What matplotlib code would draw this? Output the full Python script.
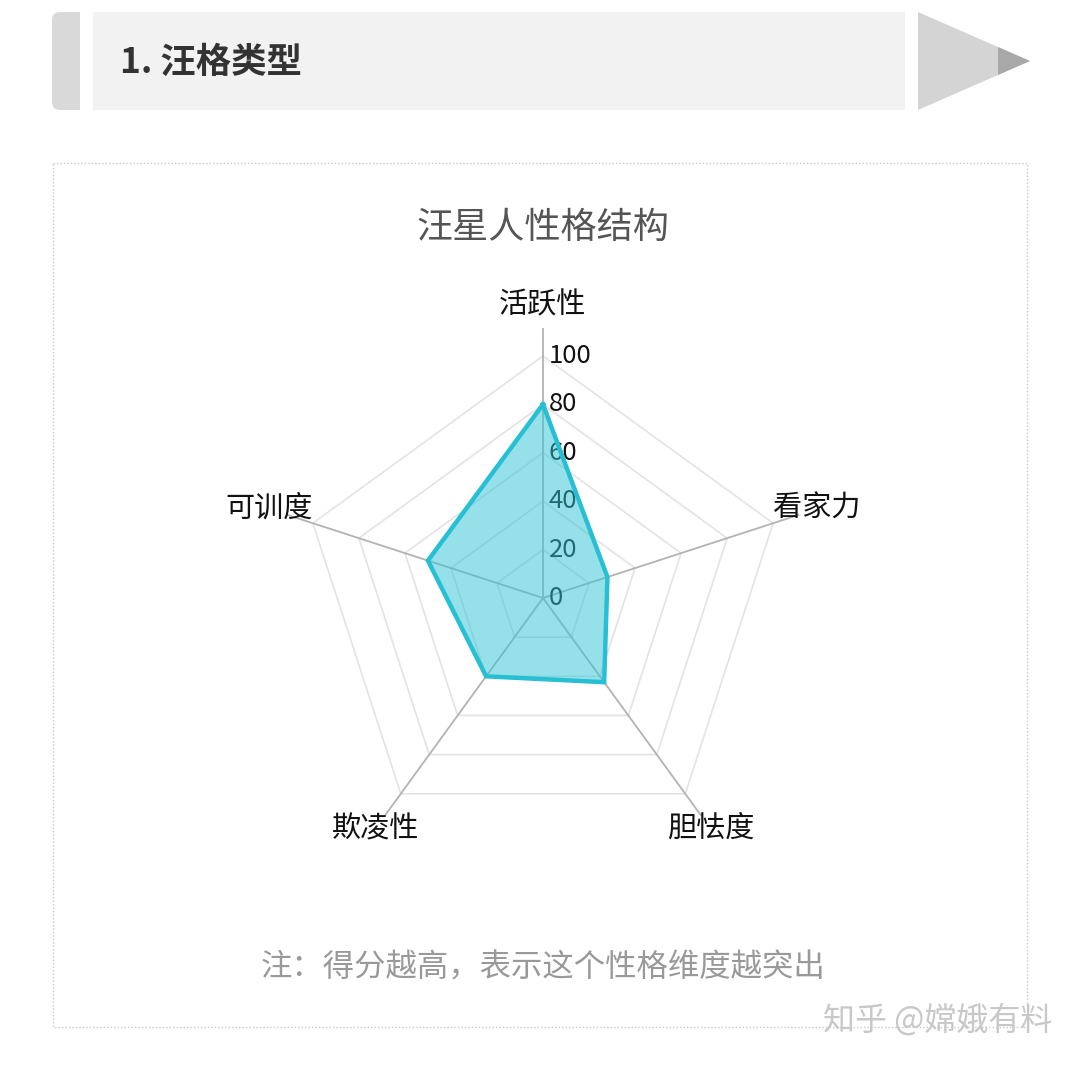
import numpy as np
import matplotlib
matplotlib.use("Agg")
import matplotlib.pyplot as plt
from matplotlib.patches import Polygon, Rectangle, FancyBboxPatch

plt.rcParams["font.family"] = ["Noto Sans CJK SC", "DejaVu Sans"]

categories = ["活跃性", "看家力", "胆怯度", "欺凌性", "可训度"]
scores = [80, 28, 43, 40, 50]
levels = [20, 40, 60, 80, 100]
tick_labels = ["0", "20", "40", "60", "80", "100"]
title = "汪星人性格结构"
header = "1. 汪格类型"
note = "注：得分越高，表示这个性格维度越突出"
watermark = "知乎 @嫦娥有料"

W, H = 1080, 1065
fig = plt.figure(figsize=(W / 100, H / 100), dpi=100)

# decoration layer in pixel coords
bg = fig.add_axes([0, 0, 1, 1])
bg.set_xlim(0, W)
bg.set_ylim(H, 0)
bg.axis("off")
bg.add_patch(FancyBboxPatch((52, 12), 28, 98, boxstyle="round,pad=0,rounding_size=8",
                            fc="#d9d9d9", ec="none"))
bg.add_patch(Rectangle((66, 12), 14, 98, fc="#d9d9d9", ec="none"))
bg.add_patch(Rectangle((93, 12), 812, 98, fc="#f2f2f2", ec="none"))
bg.add_patch(Polygon([(918, 12), (918, 110), (1030, 61)], closed=True, fc="#d4d4d4", ec="none"))
bg.add_patch(Polygon([(998, 47), (998, 75), (1030, 61)], closed=True, fc="#a8a8a8", ec="none",
                     joinstyle="round"))
bg.text(120, 62, header, fontsize=25.5, fontweight="bold", color="#333333", ha="left", va="center")
bg.add_patch(Rectangle((53, 163), 974, 864, fc="none", ec="#c8c8c8", lw=1, ls=(0, (1, 1.5))))
bg.text(543, 228, title, fontsize=26, color="#555555", ha="center", va="center")
bg.text(543, 968, note, fontsize=22.6, color="#999999", ha="center", va="center")
bg.text(1052, 1020, watermark, fontsize=23, color="#c8c8c8", ha="right", va="center")

# radar
rmax = 125
cx, cy, r100 = 543, 598, 242
half = r100 * rmax / 100
ax = fig.add_axes([(cx - half) / W, (H - cy - half) / H, 2 * half / W, 2 * half / H],
                  projection="polar")
ax.set_theta_offset(np.pi / 2)
ax.set_theta_direction(-1)
ax.set_ylim(0, rmax)
ax.axis("off")

n = len(categories)
theta = np.linspace(0, 2 * np.pi, n, endpoint=False)
closed = np.append(theta, theta[0])

for lv in levels:
    ax.plot(closed, [lv] * (n + 1), color="#e3e3e3", lw=1.2, zorder=1)
for t in theta:
    ax.plot([t, t], [0, 111], color="#b3b3b3", lw=1.3, zorder=1)

for i, lab in enumerate(tick_labels):
    ax.annotate(lab, xy=(0, i * 20), xytext=(4, 0), textcoords="offset points",
                fontsize=18.5, color="#111111", ha="left", va="center", zorder=1)

vals = np.append(scores, scores[0])
ax.fill(closed, vals, color="#2fc3d6", alpha=0.5, zorder=3, lw=0)
ax.plot(closed, vals, color="#26bfd3", lw=3.2, zorder=4, solid_joinstyle="miter")

r_map = [121, 119, 118, 118, 119]
for t, lab, rr in zip(theta, categories, r_map):
    ax.text(t, rr, lab, fontsize=21, color="#111111", ha="center", va="center")

fig.savefig("out.png", dpi=100)
